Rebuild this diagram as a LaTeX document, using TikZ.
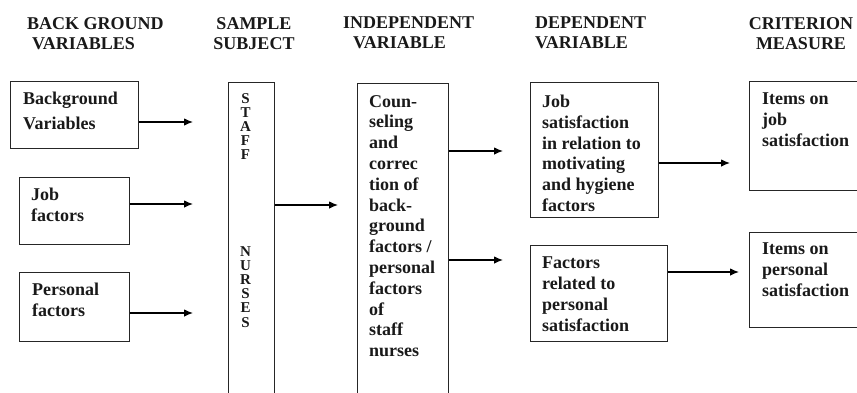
\documentclass[tikz,border=0pt]{standalone}
\usepackage{fontspec}
\setmainfont{Liberation Serif}
\usepackage{xcolor}
\usepackage{tikz}
\usetikzlibrary{arrows.meta}
\colorlet{framecolor}{black!85}
\colorlet{linkcolor}{black}
\colorlet{textcolor}{black!90}
\tikzset{
	,frame/.style		= {draw = framecolor, line width = 1pt, rectangle, inner sep = 0pt, anchor = north west}
	,boxtext/.style		= {anchor = north west, inner sep = 0pt, align = left, text = textcolor,
							font = \bfseries\fontsize{18}{21}\selectfont}
	,heading/.style		= {inner sep = 0pt, text = textcolor, font = \bfseries\fontsize{18}{20}\selectfont}
	,letters/.style		= {anchor = north, inner sep = 0pt, align = center, text = textcolor,
							font = \bfseries\fontsize{15}{14.2}\selectfont}
	,link/.style		= {draw = linkcolor, line width = 1.1pt, -{Latex[length=9pt, width=7.5pt]}}
}
\begin{document}
\begin{tikzpicture}[x=1pt, y=-1pt]

	\useasboundingbox (0,0) rectangle (857,392);
	\clip (0,0) rectangle (857,392);

	% the headings
	\node[heading, anchor = north west, align = left]	(h-back)  at (27,17)  {BACK GROUND\\\hspace{5pt}VARIABLES};
	\node[heading, anchor = north, align = center]		(h-samp)  at (254,17) {SAMPLE\\SUBJECT};
	\node[heading, anchor = north west, align = left]	(h-indep) at (343,17) {INDEPENDENT\\\hspace{10pt}VARIABLE};
	\node[heading, anchor = north west, align = left]	(h-dep)   at (535,17) {DEPENDENT\\VARIABLE};
	\node[heading, anchor = north, align = center]		(h-crit)  at (801,17) {CRITERION\\MEASURE};

	% the boxes
	\node[frame, minimum width = 128pt, minimum height = 67pt]	(bgvar)    at (10,81)   {};
	\node[frame, minimum width = 110pt, minimum height = 67pt]	(jobfac)   at (19,177)  {};
	\node[frame, minimum width = 110pt, minimum height = 69pt]	(persfac)  at (19,272)  {};
	\node[frame, minimum width = 46pt,  minimum height = 340pt]	(staff)    at (228,82)  {};
	\node[frame, minimum width = 91pt,  minimum height = 340pt]	(indep)    at (357,83)  {};
	\node[frame, minimum width = 128pt, minimum height = 135pt]	(jobsat)   at (530,82)  {};
	\node[frame, minimum width = 137pt, minimum height = 96pt]	(factrel)  at (530,245) {};
	\node[frame, minimum width = 140pt, minimum height = 109pt]	(itemjob)  at (749,81)  {};
	\node[frame, minimum width = 140pt, minimum height = 95pt]	(itempers) at (749,232) {};

	% the box texts
	\node[boxtext, font = \bfseries\fontsize{18}{25}\selectfont]
		(bgvar-t) at (23,92) {Background\\Variables};
	\node[boxtext] (jobfac-t)   at (31,188)  {Job\\factors};
	\node[boxtext] (persfac-t)  at (32,283)  {Personal\\factors};
	\node[letters] (staff-t)    at (245.5,93) {S\\T\\A\\F\\F\\[82pt]N\\U\\R\\S\\E\\S};
	\node[boxtext, font = \bfseries\fontsize{18}{20.8}\selectfont]
		(indep-t) at (369,95) {Coun-\\seling\\and\\correc\\tion of\\back-\\ground\\factors /\\personal\\factors\\of\\staff\\nurses};
	\node[boxtext, font = \bfseries\fontsize{18}{20.7}\selectfont]
		(jobsat-t) at (542,95) {Job\\satisfaction\\in relation to\\motivating\\and hygiene\\factors};
	\node[boxtext] (factrel-t)  at (542,257) {Factors\\related to\\personal\\satisfaction};
	\node[boxtext] (itemjob-t)  at (762,93)  {Items on\\job\\satisfaction};
	\node[boxtext] (itempers-t) at (762,243) {Items on\\personal\\satisfaction};

	% the arrow ends
	\coordinate (end-bgvar)   at (193,122);
	\coordinate (end-jobfac)  at (193,204);
	\coordinate (end-persfac) at (193,313);
	\coordinate (end-staff)   at (338,205);
	\coordinate (end-indep-1) at (503,151);
	\coordinate (end-indep-2) at (503,260);
	\coordinate (end-jobsat)  at (730,163);
	\coordinate (end-factrel) at (739,272);

	% the arrows
	\begin{scope}
		\draw[link] (bgvar.east |- end-bgvar)     -- (end-bgvar);
		\draw[link] (jobfac.east |- end-jobfac)   -- (end-jobfac);
		\draw[link] (persfac.east |- end-persfac) -- (end-persfac);

		\draw[link] (staff.east |- end-staff)     -- (end-staff);

		\draw[link] (indep.east |- end-indep-1)   -- (end-indep-1);
		\draw[link] (indep.east |- end-indep-2)   -- (end-indep-2);

		\draw[link] (jobsat.east |- end-jobsat)   -- (end-jobsat);
		\draw[link] (factrel.east |- end-factrel) -- (end-factrel);
	\end{scope}
\end{tikzpicture}
\end{document}
